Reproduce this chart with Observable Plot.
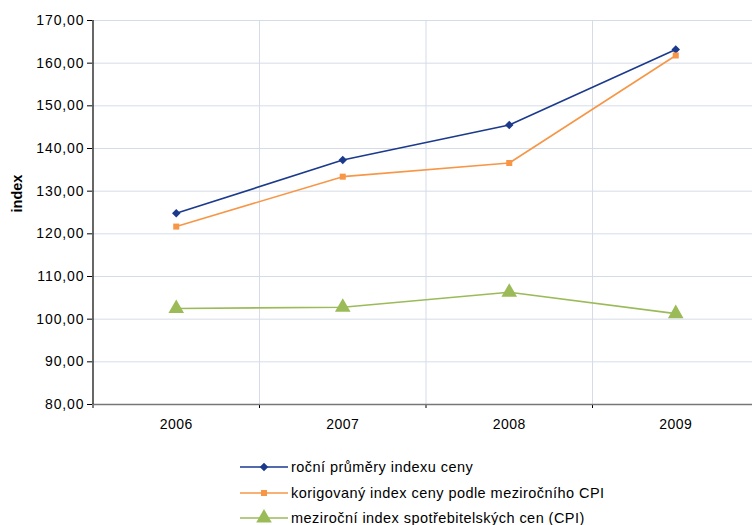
<!DOCTYPE html>
<html>
<head>
<meta charset="utf-8">
<script src="https://cdn.jsdelivr.net/npm/d3@7"></script>
<script src="https://cdn.jsdelivr.net/npm/@observablehq/plot@0.6"></script>
<style>
  html, body { margin: 0; padding: 0; background: #fff; }
  body { width: 752px; height: 525px; overflow: hidden; font-family: "Liberation Sans", Arial, sans-serif; }
  #legend { position: relative; height: 85px; }
  .row { position: absolute; left: 240px; height: 20px; display: flex; align-items: center; font-size: 14.5px; letter-spacing: 0.45px; color: #000; white-space: nowrap; }
  .row svg { margin-right: 1px; }
  #chart svg g[aria-label="y-axis tick label"] text { font-size: 14px; letter-spacing: 0.9px; }
  #chart svg g[aria-label="x-axis tick label"] text { font-size: 14px; letter-spacing: 0.5px; }
</style>
</head>
<body>
<div id="chart"></div>
<div id="legend"></div>
<script>
const years = [2006, 2007, 2008, 2009];
const rocniPrumery = [124.8, 137.3, 145.5, 163.2];
const korigovany = [121.7, 133.4, 136.6, 161.8];
const cpi = [102.5, 102.8, 106.3, 101.3];
const seriesNames = [
  "roční průměry indexu ceny",
  "korigovaný index ceny podle meziročního CPI",
  "meziroční index spotřebitelských cen (CPI)"
];
const colors = ["#1b3a8c", "#f79646", "#9bbb59"];
const symbols = ["square", "square", "triangle"];
const rotations = [45, 0, 0];
const radii = [3.4, 3.4, 5.8];
const yTicks = [80, 90, 100, 110, 120, 130, 140, 150, 160, 170];
const boundaries = [2005.5, 2006.5, 2007.5, 2008.5, 2009.5];

const allSeries = [rocniPrumery, korigovany, cpi];
const data = allSeries.flatMap((vals, i) => vals.map((v, j) => ({year: years[j], value: v, series: seriesNames[i]})));

const fmt = v => v.toFixed(2).replace(".", ",");
const gridColor = "#d5dce8";

const marks = [
  Plot.ruleY(yTicks.filter(d => d > 80), {stroke: gridColor, strokeWidth: 1}),
  Plot.ruleX(boundaries.slice(1, 4), {stroke: gridColor, strokeWidth: 1}),
  Plot.axisY({ticks: yTicks, tickFormat: fmt, tickSize: 5, tickPadding: 3, fontSize: 14, label: null, stroke: "#000"}),
  Plot.axisX({ticks: boundaries, tickFormat: () => "", tickSize: 4, label: null, stroke: "#000"}),
  Plot.axisX({ticks: years, tickFormat: d => String(d), tickSize: 0, tickPadding: 15, fontSize: 14, label: null}),
  Plot.ruleY([80], {stroke: "#777", strokeWidth: 1.5}),
  Plot.ruleX([2005.5], {stroke: "#000", strokeWidth: 1.2}),
  Plot.text(["index"], {frameAnchor: "left", dx: -75, rotate: -90, fontWeight: "bold", fontSize: 14.5})
];
allSeries.forEach((vals, i) => {
  const d = data.filter(r => r.series === seriesNames[i]);
  marks.push(Plot.line(d, {x: "year", y: "value", stroke: colors[i], strokeWidth: 1.6}));
  marks.push(Plot.dot(d, {x: "year", y: "value", fill: colors[i], symbol: symbols[i], rotate: rotations[i], r: radii[i], stroke: null}));
});

const plot = Plot.plot({
  width: 752,
  height: 440,
  marginLeft: 92,
  marginRight: 0,
  marginTop: 20,
  marginBottom: 36,
  style: {fontFamily: "Liberation Sans, Arial, sans-serif", fontSize: "14px", background: "#fff", overflow: "visible"},
  x: {type: "linear", domain: [2005.5, 2009.5], range: [92.5, 758.5], axis: null},
  y: {domain: [80, 170], axis: null},
  marks
});
document.getElementById("chart").appendChild(plot);

// legend
const legend = document.getElementById("legend");
const rowTops = [17, 43, 68];
const symMap = {square: d3.symbolSquare, triangle: d3.symbolTriangle};
seriesNames.forEach((name, i) => {
  const row = document.createElement("div");
  row.className = "row";
  row.style.top = rowTops[i] + "px";
  const sw = d3.create("svg").attr("width", 50).attr("height", 20);
  sw.append("line").attr("x1", 0).attr("x2", 48).attr("y1", 10).attr("y2", 10).attr("stroke", colors[i]).attr("stroke-width", 1.6);
  const size = Math.PI * radii[i] * radii[i];
  sw.append("path").attr("d", d3.symbol(symMap[symbols[i]], size)()).attr("transform", `translate(24,10) rotate(${rotations[i]})`).attr("fill", colors[i]);
  row.appendChild(sw.node());
  const t = document.createElement("span");
  t.textContent = name;
  row.appendChild(t);
  legend.appendChild(row);
});
</script>
</body>
</html>
